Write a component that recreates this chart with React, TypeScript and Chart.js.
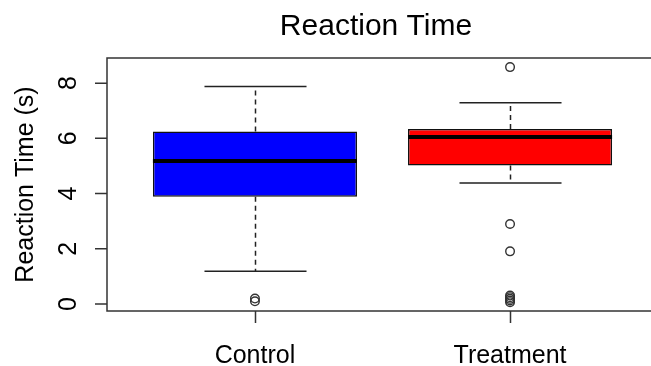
import React, { useEffect, useRef } from "react";
import { Chart, registerables } from "chart.js";

Chart.register(...registerables);

const categories = ["Control", "Treatment"];
const lowerWhisker = [1.19, 4.38];
const q1 = [3.89, 5.02];
const median = [5.18, 6.05];
const q3 = [6.25, 6.34];
const upperWhisker = [7.88, 7.29];
const controlOutliers = [0.1, 0.2];
const treatmentOutliers = [8.58, 2.9, 1.91, 0.07, 0.13, 0.19, 0.25, 0.31];
const yTicks = [0, 2, 4, 6, 8];
const boxColors = ["#0000FF", "#FF0000"];
const title = "Reaction Time";
const yTitle = "Reaction Time (s)";

const FONT = "'Liberation Sans', Arial, sans-serif";
const CANVAS_W = 680;
const CANVAS_H = 366;

export default function App() {
  const ref = useRef<HTMLCanvasElement | null>(null);

  useEffect(() => {
    if (!ref.current) return;
    const xPos = categories.map((_, i) => i + 1);

    const boxPlugin = {
      id: "boxExtras",
      beforeDatasetsDraw(chart: any) {
        const { ctx } = chart;
        const xs = chart.scales.x;
        const ys = chart.scales.y;
        ctx.save();
        ctx.strokeStyle = "#222";
        ctx.lineWidth = 1.5;
        categories.forEach((_, i) => {
          const cx = Math.round(xs.getPixelForValue(xPos[i])) + 0.5;
          const capHalf = xs.getPixelForValue(xPos[i] + 0.2) - xs.getPixelForValue(xPos[i]);
          ctx.setLineDash([5, 4]);
          ctx.beginPath();
          ctx.moveTo(cx, ys.getPixelForValue(q3[i]));
          ctx.lineTo(cx, ys.getPixelForValue(upperWhisker[i]));
          ctx.moveTo(cx, ys.getPixelForValue(q1[i]));
          ctx.lineTo(cx, ys.getPixelForValue(lowerWhisker[i]));
          ctx.stroke();
          ctx.setLineDash([]);
          ctx.beginPath();
          const yu = ys.getPixelForValue(upperWhisker[i]);
          const yl = ys.getPixelForValue(lowerWhisker[i]);
          ctx.moveTo(cx - capHalf, yu);
          ctx.lineTo(cx + capHalf, yu);
          ctx.moveTo(cx - capHalf, yl);
          ctx.lineTo(cx + capHalf, yl);
          ctx.stroke();
        });
        ctx.restore();
      },
      afterDatasetDraw(chart: any, args: any) {
        if (args.index !== 0) return;
        const { ctx } = chart;
        const xs = chart.scales.x;
        const ys = chart.scales.y;
        ctx.save();
        ctx.strokeStyle = "#000";
        ctx.lineWidth = 4;
        categories.forEach((_, i) => {
          const x0 = xs.getPixelForValue(xPos[i] - 0.4);
          const x1 = xs.getPixelForValue(xPos[i] + 0.4);
          const y = ys.getPixelForValue(median[i]);
          ctx.beginPath();
          ctx.moveTo(x0, y);
          ctx.lineTo(x1, y);
          ctx.stroke();
        });
        ctx.restore();
      },
      afterDraw(chart: any) {
        const { ctx, chartArea } = chart;
        const xs = chart.scales.x;
        const ys = chart.scales.y;
        ctx.save();
        ctx.strokeStyle = "#333";
        ctx.lineWidth = 1.5;
        ctx.strokeRect(chartArea.left, chartArea.top, chartArea.right - chartArea.left, chartArea.bottom - chartArea.top);
        ctx.beginPath();
        yTicks.forEach((v) => {
          const y = ys.getPixelForValue(v);
          ctx.moveTo(chartArea.left - 12, y);
          ctx.lineTo(chartArea.left, y);
        });
        xPos.forEach((v) => {
          const x = Math.round(xs.getPixelForValue(v)) + 0.5;
          ctx.moveTo(x, chartArea.bottom);
          ctx.lineTo(x, chartArea.bottom + 12);
        });
        ctx.stroke();
        ctx.fillStyle = "#000";
        ctx.font = `25px ${FONT}`;
        ctx.textAlign = "center";
        ctx.textBaseline = "alphabetic";
        yTicks.forEach((v) => {
          const y = ys.getPixelForValue(v);
          ctx.save();
          ctx.translate(76, y);
          ctx.rotate(-Math.PI / 2);
          ctx.fillText(String(v), 0, 0);
          ctx.restore();
        });
        categories.forEach((c, i) => {
          const x = xs.getPixelForValue(xPos[i]);
          ctx.fillText(c, x, 363);
        });
        ctx.save();
        ctx.translate(33, (chartArea.top + chartArea.bottom) / 2);
        ctx.rotate(-Math.PI / 2);
        ctx.fillText(yTitle, 0, 0);
        ctx.restore();
        ctx.font = `30px ${FONT}`;
        ctx.fillText(title, 376, 35);
        ctx.restore();
      },
    };

    const outlierPoints = [
      ...controlOutliers.map((v) => ({ x: xPos[0], y: v })),
      ...treatmentOutliers.map((v) => ({ x: xPos[1], y: v })),
    ];

    const chart = new Chart(ref.current, {
      type: "bar",
      data: {
        datasets: [
          {
            type: "bar",
            label: "box",
            data: categories.map((_, i) => ({ x: xPos[i], y: [q1[i], q3[i]] })) as any,
            backgroundColor: boxColors,
            borderColor: "#111",
            borderWidth: 1.5,
            borderSkipped: false,
            barPercentage: 0.8,
            categoryPercentage: 1,
            order: 2,
          } as any,
          {
            type: "scatter",
            label: "outliers",
            data: outlierPoints,
            pointRadius: 4.3,
            pointBorderWidth: 1.4,
            pointBorderColor: "#333",
            pointBackgroundColor: "rgba(255,255,255,0)",
            order: 1,
          } as any,
        ],
      },
      options: {
        responsive: false,
        devicePixelRatio: 1,
        animation: false,
        layout: { padding: { left: 107, top: 58, right: CANVAS_W - 658, bottom: CANVAS_H - 311 } },
        plugins: { legend: { display: false }, tooltip: { enabled: false }, title: { display: false } },
        scales: {
          x: {
            type: "linear",
            min: 0.42,
            max: 2.58,
            offset: false,
            display: false,
            afterBuildTicks: (s: any) => {
              s.ticks = xPos.map((v) => ({ value: v }));
            },
          },
          y: {
            type: "linear",
            min: -0.25,
            max: 8.91,
            offset: false,
            display: false,
            afterBuildTicks: (s: any) => {
              s.ticks = yTicks.map((v) => ({ value: v }));
            },
          },
        },
      } as any,
      plugins: [boxPlugin],
    });
    return () => chart.destroy();
  }, []);

  return (
    <div style={{ position: "fixed", left: 0, top: 0, width: 651, height: 366, overflow: "hidden", background: "#fff" }}>
      <canvas ref={ref} width={CANVAS_W} height={CANVAS_H} style={{ width: CANVAS_W, height: CANVAS_H, display: "block" }} />
    </div>
  );
}
